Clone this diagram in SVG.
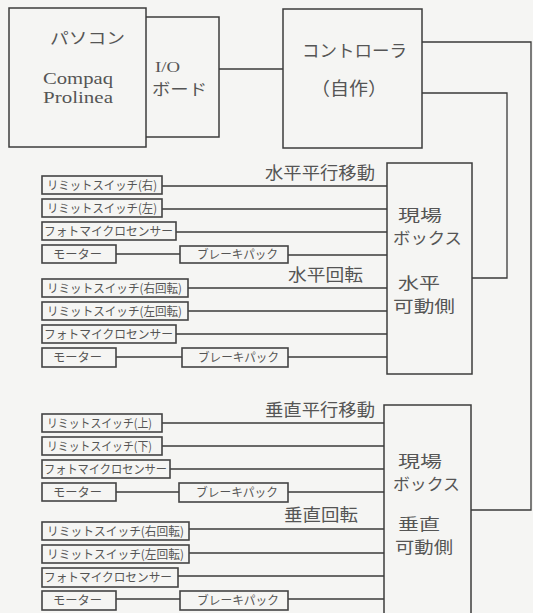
<svg xmlns="http://www.w3.org/2000/svg" width="533" height="613" viewBox="0 0 533 613">
<style>
.bg{fill:#f5f5f3}
.box{fill:none;stroke:#3c3c3c;stroke-width:1.5}
.sbox{fill:none;stroke:#444;stroke-width:1.6}
.wire{fill:none;stroke:#3a3a3a;stroke-width:1.3}
.jp{font-family:"Noto Sans CJK JP","Noto Sans",sans-serif;fill:#555}
.en{font-family:"Liberation Serif","DejaVu Serif",serif;fill:#555}
.s{font-size:12px}
.m{font-size:17px}
.l{font-size:15.5px}
</style>
<rect class="bg" x="0" y="0" width="533" height="613"/>

<g id="connectors">
<path class="wire" d="M219 69H283"/>
<path class="wire" d="M422 93H507V278H472"/>
<path class="wire" d="M422 42H531V510H471"/>
<path class="wire" d="M162 186H387"/>
<path class="wire" d="M162 209H387"/>
<path class="wire" d="M176 232H387"/>
<path class="wire" d="M116 254H180"/>
<path class="wire" d="M288 255H387"/>
<path class="wire" d="M188 288H387"/>
<path class="wire" d="M188 311H387"/>
<path class="wire" d="M176 334H387"/>
<path class="wire" d="M116 357H182"/>
<path class="wire" d="M288 357H387"/>
<path class="wire" d="M162 423H384"/>
<path class="wire" d="M162 446H384"/>
<path class="wire" d="M170 469H384"/>
<path class="wire" d="M116 492H179"/>
<path class="wire" d="M288 492H384"/>
<path class="wire" d="M189 529H384"/>
<path class="wire" d="M189 553H384"/>
<path class="wire" d="M178 576H384"/>
<path class="wire" d="M116 599H180"/>
<path class="wire" d="M288 599H384"/>
</g>

<g id="pc">
<rect class="box" x="9" y="8" width="137" height="139"/>
<text class="jp" x="50" y="44" font-size="16" textLength="75" lengthAdjust="spacingAndGlyphs">パソコン</text>
<text class="en" x="43" y="84" font-size="16.5" textLength="70" lengthAdjust="spacingAndGlyphs">Compaq</text>
<text class="en" x="43" y="102.5" font-size="16.5" textLength="70" lengthAdjust="spacingAndGlyphs">Prolinea</text>
</g>

<g id="io">
<path class="box" d="M146 17H219V137H146"/>
<text class="en" x="155" y="71.5" font-size="15" textLength="25" lengthAdjust="spacingAndGlyphs">I/O</text>
<text class="jp" x="152" y="95" font-size="16" textLength="55" lengthAdjust="spacingAndGlyphs">ボード</text>
</g>

<g id="controller">
<rect class="box" x="283" y="9" width="139" height="139"/>
<text class="jp" x="302" y="57" font-size="17" textLength="105" lengthAdjust="spacingAndGlyphs">コントローラ</text>
<text class="jp" x="311" y="95" font-size="18" textLength="76" lengthAdjust="spacingAndGlyphs">（自作）</text>
</g>

<g id="hbox">
<rect class="box" x="387" y="163" width="85" height="211"/>
<text class="jp l" x="398" y="221" textLength="44" lengthAdjust="spacingAndGlyphs">現場</text>
<text class="jp l" x="393" y="243.5" textLength="69" lengthAdjust="spacingAndGlyphs">ボックス</text>
<text class="jp l" x="398" y="289" textLength="42" lengthAdjust="spacingAndGlyphs">水平</text>
<text class="jp l" x="393" y="311.5" textLength="62" lengthAdjust="spacingAndGlyphs">可動側</text>
</g>

<g id="hlabels">
<text class="jp m" x="265" y="179" textLength="110" lengthAdjust="spacingAndGlyphs">水平平行移動</text>
<text class="jp m" x="288" y="281" textLength="75" lengthAdjust="spacingAndGlyphs">水平回転</text>
</g>

<g id="h-limit-r"><rect class="sbox" x="42" y="176" width="120" height="18"/><text class="jp s" x="47" y="190" textLength="110" lengthAdjust="spacingAndGlyphs">リミットスイッチ(右)</text></g>
<g id="h-limit-l"><rect class="sbox" x="42" y="199" width="120" height="18"/><text class="jp s" x="47" y="213" textLength="110" lengthAdjust="spacingAndGlyphs">リミットスイッチ(左)</text></g>
<g id="h-photo1"><rect class="sbox" x="42" y="222" width="134" height="18"/><text class="jp s" x="44" y="236" textLength="129" lengthAdjust="spacingAndGlyphs">フォトマイクロセンサー</text></g>
<g id="h-motor1"><rect class="sbox" x="42" y="245" width="74" height="18"/><text class="jp s" x="53" y="259" textLength="49" lengthAdjust="spacingAndGlyphs">モーター</text></g>
<g id="h-brake1"><rect class="sbox" x="180" y="246" width="108" height="17"/><text class="jp s" x="197" y="259" textLength="81" lengthAdjust="spacingAndGlyphs">ブレーキパック</text></g>
<g id="h-limit-rr"><rect class="sbox" x="42" y="279" width="146" height="18"/><text class="jp s" x="47" y="293" textLength="135" lengthAdjust="spacingAndGlyphs">リミットスイッチ(右回転)</text></g>
<g id="h-limit-lr"><rect class="sbox" x="42" y="302" width="146" height="18"/><text class="jp s" x="47" y="316" textLength="135" lengthAdjust="spacingAndGlyphs">リミットスイッチ(左回転)</text></g>
<g id="h-photo2"><rect class="sbox" x="42" y="325" width="134" height="18"/><text class="jp s" x="44" y="339" textLength="129" lengthAdjust="spacingAndGlyphs">フォトマイクロセンサー</text></g>
<g id="h-motor2"><rect class="sbox" x="42" y="348" width="74" height="19"/><text class="jp s" x="53" y="362" textLength="49" lengthAdjust="spacingAndGlyphs">モーター</text></g>
<g id="h-brake2"><rect class="sbox" x="182" y="348" width="106" height="19"/><text class="jp s" x="198" y="362" textLength="81" lengthAdjust="spacingAndGlyphs">ブレーキパック</text></g>

<g id="vbox">
<rect class="box" x="384" y="405" width="87" height="220"/>
<text class="jp l" x="398" y="467" textLength="44" lengthAdjust="spacingAndGlyphs">現場</text>
<text class="jp l" x="393" y="489.5" textLength="67" lengthAdjust="spacingAndGlyphs">ボックス</text>
<text class="jp l" x="398" y="530" textLength="42" lengthAdjust="spacingAndGlyphs">垂直</text>
<text class="jp l" x="395" y="552.5" textLength="58" lengthAdjust="spacingAndGlyphs">可動側</text>
</g>

<g id="vlabels">
<text class="jp m" x="265" y="416" textLength="110" lengthAdjust="spacingAndGlyphs">垂直平行移動</text>
<text class="jp m" x="284" y="521" textLength="74" lengthAdjust="spacingAndGlyphs">垂直回転</text>
</g>

<g id="v-limit-u"><rect class="sbox" x="42" y="414" width="120" height="18"/><text class="jp s" x="47" y="428" textLength="105" lengthAdjust="spacingAndGlyphs">リミットスイッチ(上)</text></g>
<g id="v-limit-d"><rect class="sbox" x="42" y="437" width="120" height="18"/><text class="jp s" x="47" y="451" textLength="105" lengthAdjust="spacingAndGlyphs">リミットスイッチ(下)</text></g>
<g id="v-photo1"><rect class="sbox" x="42" y="460" width="128" height="18"/><text class="jp s" x="44" y="474" textLength="123" lengthAdjust="spacingAndGlyphs">フォトマイクロセンサー</text></g>
<g id="v-motor1"><rect class="sbox" x="42" y="483" width="74" height="18"/><text class="jp s" x="53" y="497" textLength="49" lengthAdjust="spacingAndGlyphs">モーター</text></g>
<g id="v-brake1"><rect class="sbox" x="179" y="483" width="109" height="19"/><text class="jp s" x="196" y="497" textLength="82" lengthAdjust="spacingAndGlyphs">ブレーキパック</text></g>
<g id="v-limit-rr"><rect class="sbox" x="42" y="522" width="147" height="18"/><text class="jp s" x="47" y="536" textLength="137" lengthAdjust="spacingAndGlyphs">リミットスイッチ(右回転)</text></g>
<g id="v-limit-lr"><rect class="sbox" x="42" y="545" width="147" height="18"/><text class="jp s" x="47" y="559" textLength="137" lengthAdjust="spacingAndGlyphs">リミットスイッチ(左回転)</text></g>
<g id="v-photo2"><rect class="sbox" x="42" y="568" width="136" height="19"/><text class="jp s" x="44" y="582" textLength="128" lengthAdjust="spacingAndGlyphs">フォトマイクロセンサー</text></g>
<g id="v-motor2"><rect class="sbox" x="42" y="591" width="74" height="19"/><text class="jp s" x="53" y="605" textLength="49" lengthAdjust="spacingAndGlyphs">モーター</text></g>
<g id="v-brake2"><rect class="sbox" x="180" y="591" width="108" height="19"/><text class="jp s" x="197" y="605" textLength="82" lengthAdjust="spacingAndGlyphs">ブレーキパック</text></g>
</svg>
